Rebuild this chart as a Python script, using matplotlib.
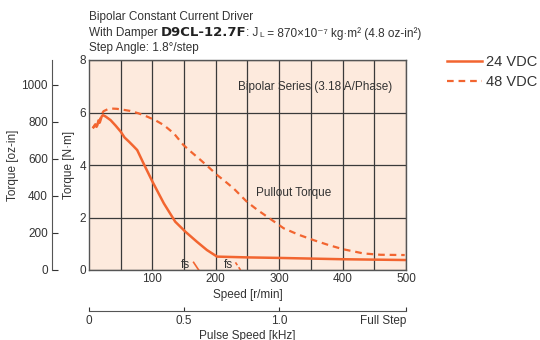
import matplotlib.pyplot as plt
import numpy as np

plt.rcParams['font.family'] = ['Liberation Sans Narrow', 'Liberation Sans', 'DejaVu Sans']

# speed [r/min] / torque [N·m]
speed_24 = [7, 10, 13, 15, 17, 20, 22, 26, 34, 42, 50, 56, 63, 70, 76, 86, 100, 118, 136, 152, 170, 186, 202, 250, 300, 400, 500]
torque_24 = [5.44, 5.55, 5.5, 5.7, 5.62, 5.85, 5.9, 5.85, 5.71, 5.5, 5.27, 5.05, 4.89, 4.72, 4.57, 4.06, 3.37, 2.54, 1.84, 1.46, 1.08, 0.76, 0.51, 0.48, 0.46, 0.41, 0.38]

speed_48 = [6, 9, 12, 14, 16, 19, 23, 29, 36, 44, 55, 65, 78, 92, 105, 118, 134, 149, 162, 176, 189, 202, 215, 228, 249, 265, 281, 307, 330, 354, 378, 401, 433, 460, 498]
torque_48 = [5.4, 5.5, 5.45, 5.65, 5.6, 5.9, 6.05, 6.12, 6.15, 6.14, 6.1, 6.06, 5.97, 5.84, 5.7, 5.52, 5.2, 4.76, 4.48, 4.19, 3.91, 3.62, 3.37, 3.11, 2.6, 2.3, 2.03, 1.59, 1.35, 1.14, 0.95, 0.79, 0.63, 0.58, 0.57]

# start-stop (fs) marks
fs_speed_24 = [165, 173]
fs_speed_48 = [231, 239]
fs_torque = [0.29, 0.0]

speed_ticks = [100, 200, 300, 400, 500]
nm_ticks = [0, 2, 4, 6, 8]
oz_ticks = [0, 200, 400, 600, 800, 1000]
pulse_ticks = [0, 0.5, 1.0, 500 / 300]
pulse_labels = ['0', '0.5', '1.0', 'Full Step']

orange = '#F26530'
text_c = '#333333'
grid_c = '#3a3a3a'

fig = plt.figure(figsize=(5.4, 3.4), dpi=100)
ax = fig.add_axes([89 / 540, 1 - 270 / 340, 317 / 540, 210 / 340])
ax.set_facecolor('#FDEADD')

ax.plot(speed_24, torque_24, color=orange, lw=1.8, label='24 VDC')
ax.plot(speed_48, torque_48, color=orange, lw=1.6, ls=(0, (3, 2.2)), label='48 VDC')
ax.plot(fs_speed_24, fs_torque, color=orange, lw=1.2)
ax.plot(fs_speed_48, fs_torque, color=orange, lw=1.2, ls=(0, (2, 1.5)))
ax.text(152, 0.2, 'fs', fontsize=8.5, color=text_c, ha='center', va='center')
ax.text(220, 0.2, 'fs', fontsize=8.5, color=text_c, ha='center', va='center')

ax.set_xlim(0, 500)
ax.set_ylim(0, 8)
ax.set_xticks(np.arange(50, 500, 50), minor=True)
ax.set_xticks(speed_ticks)
ax.set_yticks(nm_ticks)
ax.grid(True, which='both', color=grid_c, lw=0.9)
ax.tick_params(which='both', length=0, labelsize=8.5, colors=text_c, pad=2)
for s in ax.spines.values():
    s.set_color('#555555')
    s.set_linewidth(1.0)
ax.set_xlabel('Speed [r/min]', fontsize=8.5, color=text_c, labelpad=3)
ax.set_ylabel('Torque [N·m]', fontsize=8.5, color=text_c, labelpad=3)

ax.text(357, 6.97, 'Bipolar Series (3.18 A/Phase)', fontsize=8.5, color=text_c, ha='center', va='center')
ax.text(322, 2.93, 'Pullout Torque', fontsize=8.5, color=text_c, ha='center', va='center')

# oz-in axis
oz = ax.twinx()
oz.set_ylim(0, 8 / 0.00706155)
oz.set_yticks(oz_ticks)
oz.yaxis.set_ticks_position('left')
oz.yaxis.set_label_position('left')
for name in ['top', 'right', 'bottom']:
    oz.spines[name].set_visible(False)
oz.spines['left'].set_position(('axes', -37 / 317))
oz.spines['left'].set_color('#555555')
oz.tick_params(direction='in', length=4, labelsize=8.5, colors=text_c, pad=3)
oz.set_ylabel('Torque [oz-in]', fontsize=8.5, color=text_c, labelpad=2)

# pulse speed axis
pulse = ax.secondary_xaxis(-41 / 210, functions=(lambda v: v / 300, lambda v: v * 300))
pulse.set_xticks(pulse_ticks)
pulse.set_xticklabels(pulse_labels)
pulse.spines['bottom'].set_color('#555555')
pulse.tick_params(direction='in', length=3, labelsize=8.5, colors=text_c, pad=3)
pulse.get_xticklabels()[-1].set_ha('right')
pulse.set_xlabel('Pulse Speed [kHz]', fontsize=8.5, color=text_c, labelpad=2)

# header
fig.text(89 / 540, 1 - 17 / 340, 'Bipolar Constant Current Driver', fontsize=8.5, color=text_c, va='center')
t1 = fig.text(89 / 540, 1 - 33 / 340, 'With Damper ', fontsize=8.5, color=text_c, va='center')
t2 = ax.annotate('D9CL-12.7F', xy=(1, 0), xycoords=t1, va='bottom', fontsize=9.5,
                 fontweight='bold', color='#222222', family=['DejaVu Sans'])
t3 = ax.annotate(': J', xy=(1, 0), xycoords=t2, va='bottom', fontsize=8.5, color=text_c)
t4 = ax.annotate('L', xy=(1, 0), xycoords=t3, va='bottom', fontsize=6, color=text_c)
ax.annotate(' = 870\u00d710\u207b\u2077 kg\u00b7m\u00b2 (4.8 oz-in\u00b2)',
            xy=(1, 0), xycoords=t4, xytext=(0, -0.6), textcoords='offset points',
            va='bottom', fontsize=8.5, color=text_c)
fig.text(89 / 540, 1 - 48 / 340, 'Step Angle: 1.8°/step', fontsize=8.5, color=text_c, va='center')

fig.legend(loc='upper left', bbox_to_anchor=(441 / 540, 1 - 49 / 340), frameon=False,
           fontsize=10.5, handlelength=2.4, handletextpad=0.3, labelspacing=0.45,
           labelcolor=text_c, borderaxespad=0)

fig.savefig('out.png', dpi=100)
